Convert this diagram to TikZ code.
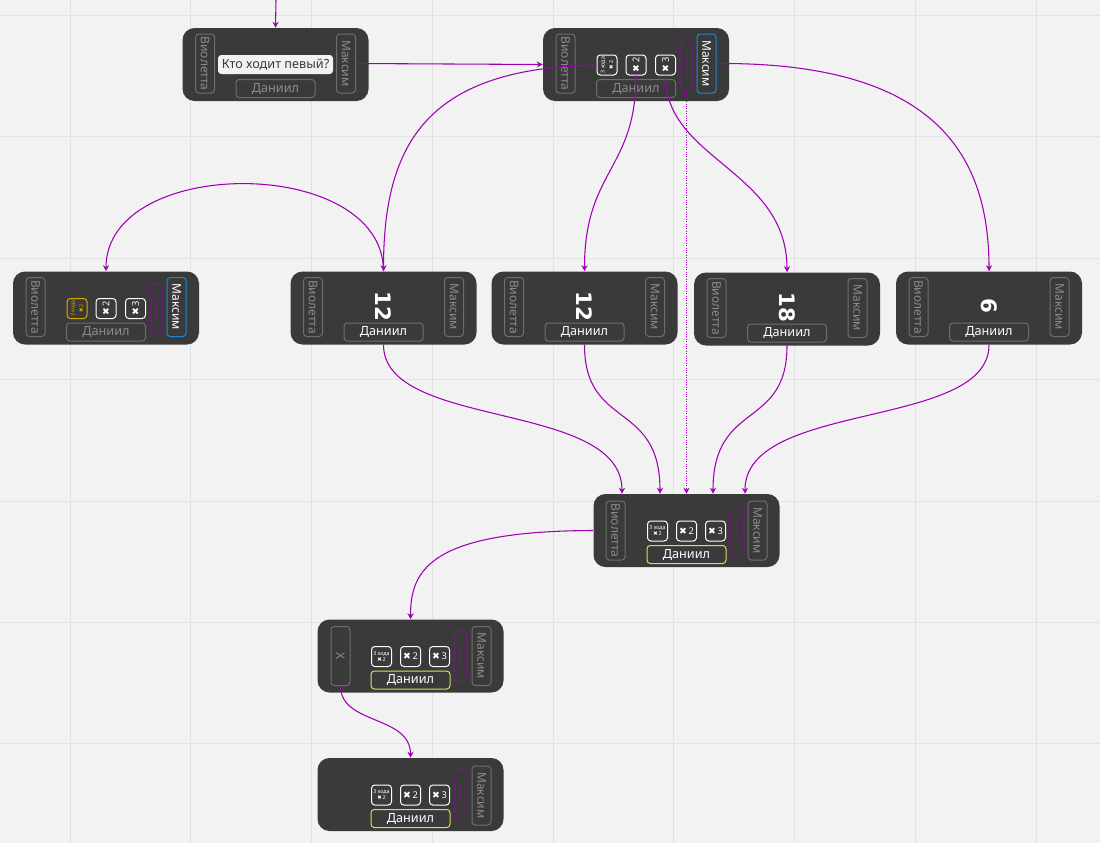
\documentclass[tikz,border=0pt]{standalone}
\usepackage{fontspec}
\usepackage{graphicx}
\setmainfont{Noto Sans}
\newfontfamily\crossfont{DejaVu Sans}
\usetikzlibrary{calc,arrows.meta}
\definecolor{bggray}{HTML}{F2F2F2}
\definecolor{gridgray}{HTML}{E2E2E2}
\definecolor{cardgray}{HTML}{3A3A3A}
\definecolor{boxgray}{HTML}{6E6E6E}
\definecolor{txtgray}{HTML}{8C8C8C}
\definecolor{maxblue}{HTML}{1E88D8}
\definecolor{turnyellow}{HTML}{DCDC55}
\definecolor{gold}{HTML}{D4AA00}
\definecolor{purp}{HTML}{A000B4}
\newcommand{\crs}{{\crossfont ✖}}

\begin{document}
\begin{tikzpicture}[x=0.75pt,y=-0.75pt,
	card/.style={fill=cardgray,rounded corners=9pt,minimum width=139.5pt,minimum height=54.75pt,inner sep=0pt},
	sidebox/.style={draw=boxgray,line width=0.75pt,rounded corners=2.5pt,minimum width=14.25pt,minimum height=44.25pt,inner sep=0pt,text=txtgray,font=\fontsize{9}{10}\selectfont},
	chosen/.style={draw=maxblue,text=white},
	player/.style={draw=boxgray,line width=0.75pt,rounded corners=2.5pt,minimum width=59.25pt,minimum height=13.5pt,inner sep=0pt,text=txtgray,font=\fontsize{9.5}{10}\selectfont},
	onturn/.style={draw=turnyellow,text=white},
	item/.style={draw=white,line width=0.75pt,rounded corners=2.5pt,minimum size=15pt,inner sep=0pt,text=white,font=\fontsize{7}{8}\selectfont},
	tinytext/.style={font=\fontsize{4}{4.5}\selectfont,align=center},
	passbox/.style={draw=purp,dash pattern=on 0.8pt off 1.2pt,line width=0.9pt,rounded corners=3pt,minimum width=9pt,minimum height=38.25pt,inner sep=0pt,text=purp,font=\fontsize{2.5}{3}\selectfont},
	question/.style={fill=bggray,rounded corners=2.5pt,minimum width=86.25pt,minimum height=14.25pt,inner sep=0pt,text=cardgray,font=\fontsize{9.5}{10}\selectfont},
	big/.style={text=white,font=\crossfont\bfseries\fontsize{16}{18}\selectfont},
	link/.style={draw=purp,line width=0.8pt,-{Stealth[length=4.5pt,width=4.5pt]}},
	grid line/.style={draw=gridgray,line width=0.75pt}]
	\fill[bggray] (0,0) rectangle (1100,843);
	\useasboundingbox (0,0) rectangle (1100,843);
	\foreach \k in {0,...,8} \draw[grid line] ({70+120.75*\k},0) -- ++(0,843);
	\foreach \k in {0,...,6} \draw[grid line] (0,{15.5+121.4*\k}) -- ++(1100,0);

	\node[card] (a) at (275.5,64.5) {};
	\node[sidebox] (a-v) at ($(a)+(-70.5,-1)$) {\rotatebox{-90}{Виолетта}};
	\node[sidebox] (a-m) at ($(a)+(70.5,-1)$) {\rotatebox{-90}{Максим}};
	\node[question] (a-q) at (a) {Кто ходит певый?};
	\node[player] (a-d) at ($(a)+(0,24)$) {Даниил};

	\node[card] (b) at (636,64.5) {};
	\node[sidebox] (b-v) at ($(b)+(-70.5,-1)$) {\rotatebox{-90}{Виолетта}};
	\node[sidebox,chosen] (b-m) at ($(b)+(70.5,-1)$) {\rotatebox{-90}{Максим}};
	\node[item,tinytext] (b-i1) at ($(b)+(-29,0.5)$) {\rotatebox{90}{\shortstack{3 хода\\\crs\,2}}};
	\node[item] (b-i2) at ($(b)+(0,0.5)$) {\rotatebox{90}{\crs\,2}};
	\node[item] (b-i3) at ($(b)+(29.5,0.5)$) {\rotatebox{90}{\crs\,3}};
	\node[passbox] (b-p) at ($(b)+(50.5,1)$) {\rotatebox{-90}{Передать ход}};
	\node[player] (b-d) at ($(b)+(0,24)$) {Даниил};

	\node[card] (c) at (106,308) {};
	\node[sidebox] (c-v) at ($(c)+(-70.5,-1)$) {\rotatebox{-90}{Виолетта}};
	\node[sidebox,chosen] (c-m) at ($(c)+(70.5,-1)$) {\rotatebox{-90}{Максим}};
	\node[item,tinytext,draw=gold,text=gold] (c-i1) at ($(c)+(-29,0.5)$) {\rotatebox{90}{\shortstack{3 хода\\\crs\,2}}};
	\node[item] (c-i2) at ($(c)+(0,0.5)$) {\rotatebox{90}{\crs\,2}};
	\node[item] (c-i3) at ($(c)+(29.5,0.5)$) {\rotatebox{90}{\crs\,3}};
	\node[passbox] (c-p) at ($(c)+(50.5,1)$) {\rotatebox{-90}{Передать ход}};
	\node[player] (c-d) at ($(c)+(0,24)$) {Даниил};

	\node[card] (d) at (383.5,308) {};
	\node[sidebox] (d-v) at ($(d)+(-70.5,-1)$) {\rotatebox{-90}{Виолетта}};
	\node[sidebox] (d-m) at ($(d)+(70.5,-1)$) {\rotatebox{-90}{Максим}};
	\node[big] (d-n) at ($(d)+(0,-2)$) {\rotatebox{-90}{12}};
	\node[player,text=white] (d-d) at ($(d)+(0,24)$) {Даниил};

	\node[card] (e) at (584.5,308) {};
	\node[sidebox] (e-v) at ($(e)+(-70.5,-1)$) {\rotatebox{-90}{Виолетта}};
	\node[sidebox] (e-m) at ($(e)+(70.5,-1)$) {\rotatebox{-90}{Максим}};
	\node[big] (e-n) at ($(e)+(0,-2)$) {\rotatebox{-90}{12}};
	\node[player,text=white] (e-d) at ($(e)+(0,24)$) {Даниил};

	\node[card] (f) at (787,309) {};
	\node[sidebox] (f-v) at ($(f)+(-70.5,-1)$) {\rotatebox{-90}{Виолетта}};
	\node[sidebox] (f-m) at ($(f)+(70.5,-1)$) {\rotatebox{-90}{Максим}};
	\node[big] (f-n) at ($(f)+(0,-2)$) {\rotatebox{-90}{18}};
	\node[player,text=white] (f-d) at ($(f)+(0,24)$) {Даниил};

	\node[card] (g) at (989,308) {};
	\node[sidebox] (g-v) at ($(g)+(-70.5,-1)$) {\rotatebox{-90}{Виолетта}};
	\node[sidebox] (g-m) at ($(g)+(70.5,-1)$) {\rotatebox{-90}{Максим}};
	\node[big] (g-n) at ($(g)+(0,-2)$) {\rotatebox{-90}{6}};
	\node[player,text=white] (g-d) at ($(g)+(0,24)$) {Даниил};

	\node[card] (h) at (686.5,530.5) {};
	\node[sidebox] (h-v) at ($(h)+(-71,0)$) {\rotatebox{-90}{Виолетта}};
	\node[sidebox] (h-m) at ($(h)+(71,0)$) {\rotatebox{-90}{Максим}};
	\node[item,tinytext] (h-i1) at ($(h)+(-29,0.5)$) {3 хода\\\crs\,2};
	\node[item] (h-i2) at ($(h)+(0,0.5)$) {\crs\,2};
	\node[item] (h-i3) at ($(h)+(29,0.5)$) {\crs\,3};
	\node[passbox] (h-p) at ($(h)+(50,0)$) {\rotatebox{-90}{Передать ход}};
	\node[player,onturn] (h-d) at ($(h)+(0,24)$) {Даниил};

	\node[card] (i) at (410.5,656) {};
	\node[sidebox] (i-v) at ($(i)+(-70,0)$) {\rotatebox{-90}{X}};
	\node[sidebox] (i-m) at ($(i)+(71,0)$) {\rotatebox{-90}{Максим}};
	\node[item,tinytext] (i-i1) at ($(i)+(-29,0.5)$) {3 хода\\\crs\,2};
	\node[item] (i-i2) at ($(i)+(0,0.5)$) {\crs\,2};
	\node[item] (i-i3) at ($(i)+(29,0.5)$) {\crs\,3};
	\node[passbox] (i-p) at ($(i)+(50,0)$) {\rotatebox{-90}{Передать ход}};
	\node[player,onturn] (i-d) at ($(i)+(0,24)$) {Даниил};

	\node[card] (j) at (410.5,794.5) {};
	\node[sidebox] (j-m) at ($(j)+(71,1)$) {\rotatebox{-90}{Максим}};
	\node[item,tinytext] (j-i1) at ($(j)+(-29,0.5)$) {3 хода\\\crs\,2};
	\node[item] (j-i2) at ($(j)+(0,0.5)$) {\crs\,2};
	\node[item] (j-i3) at ($(j)+(29,0.5)$) {\crs\,3};
	\node[passbox] (j-p) at ($(j)+(50,0)$) {\rotatebox{-90}{Передать ход}};
	\node[player,onturn] (j-d) at ($(j)+(0,24)$) {Даниил};

	\coordinate (in) at (276,0);
	\draw[link] (in) -- (a.north);
	\draw[link] (a-m.east) -- (b.west);
	\draw[link] (b-i1.west) .. controls (430,68) and (383.5,140) .. (d.north);
	\draw[link] (b-i2.south) .. controls (636,170) and (584.5,170) .. (e.north);
	\draw[link] (b-i3.south) .. controls (665,160) and (787,170) .. (f.north);
	\draw[link] (b-m.east) .. controls (930,62) and (989,150) .. (g.north);
	\draw[link,densely dotted,line width=0.6pt] (b-p.south) -- (b-p.south |- h.north);
	\draw[link] (d.north) .. controls (383.5,155) and (106,155) .. (c.north);
	\draw[link] (d.south) .. controls (383.5,430) and (622,400) .. ($(h.north)+(-64.5,0)$);
	\draw[link] (e.south) .. controls (584.5,430) and (660,400) .. ($(h.north)+(-26.5,0)$);
	\draw[link] (f.south) .. controls (787,430) and (713,400) .. ($(h.north)+(26.5,0)$);
	\draw[link] (g.south) .. controls (989,430) and (745,400) .. ($(h.north)+(58.5,0)$);
	\draw[link] (h.west) .. controls (430,531) and (410.5,570) .. (i.north);
	\draw[link] (i-v.south) .. controls (340.5,725) and (410.5,715) .. (j.north);
\end{tikzpicture}
\end{document}
